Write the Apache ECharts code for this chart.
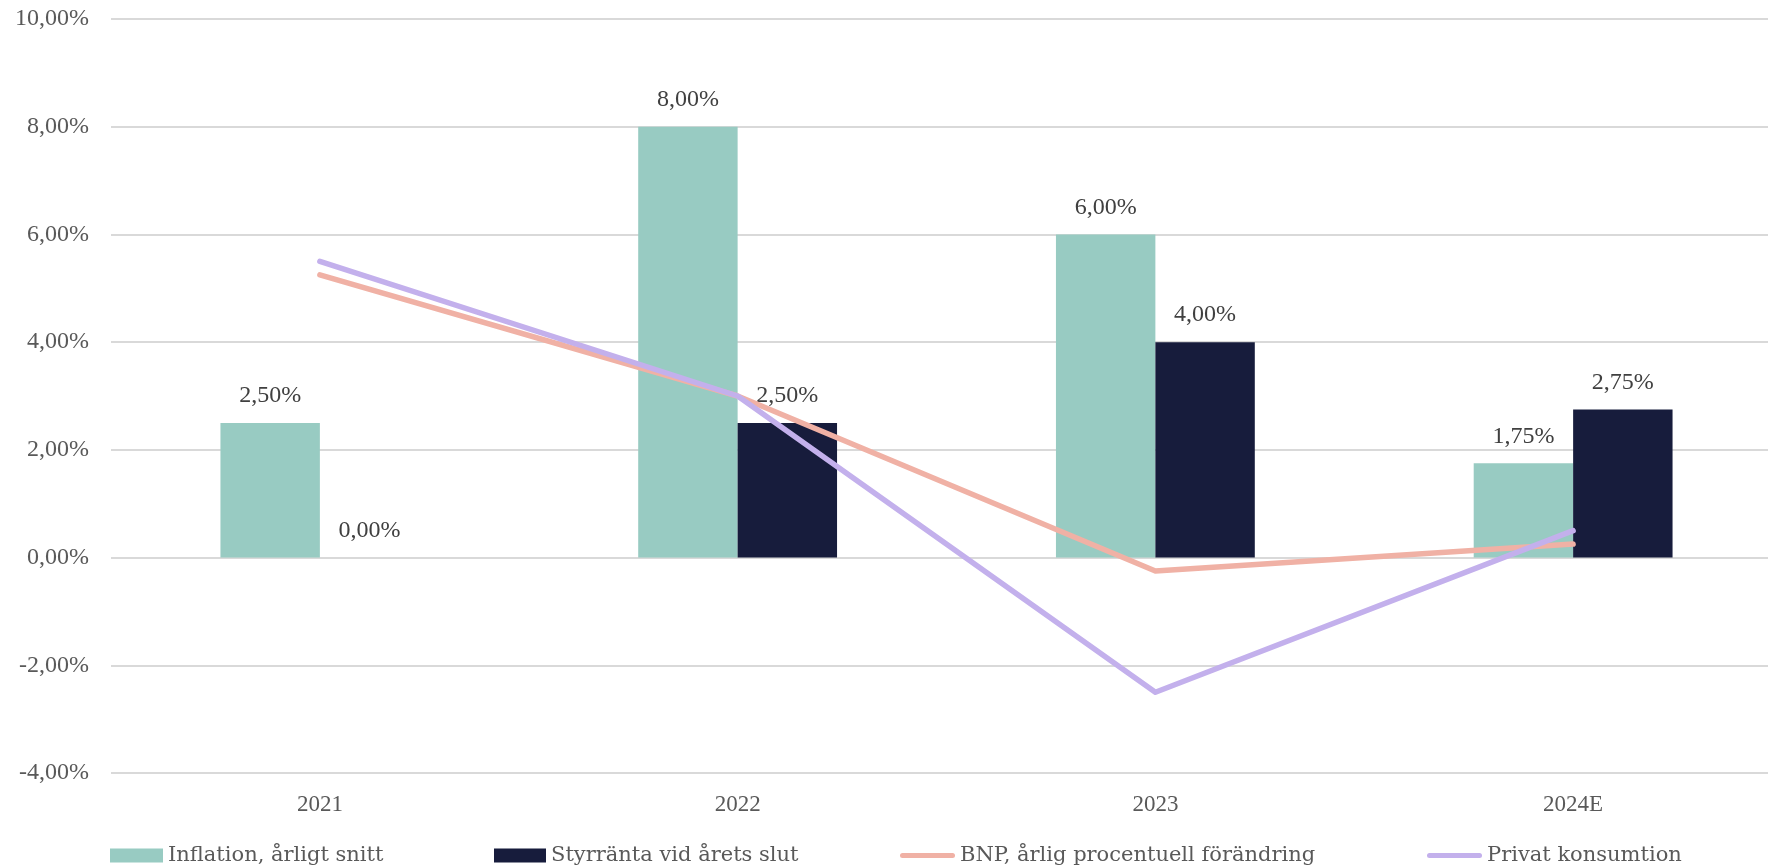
<!DOCTYPE html>
<html>
<head>
<meta charset="utf-8">
<script src="https://cdn.jsdelivr.net/npm/echarts@6/dist/echarts.min.js"></script>
<style>html,body{margin:0;padding:0;background:#fff;}#c{width:1768px;height:867px;}</style>
</head>
<body>
<div id="c"></div>
<script>
const categories = ['2021', '2022', '2023', '2024E'];
const inflation = [2.5, 8.0, 6.0, 1.75];
const styrranta = [0.0, 2.5, 4.0, 2.75];
const bnp = [5.25, 3.0, -0.25, 0.25];
const privat = [5.5, 3.0, -2.5, 0.5];
const seriesNames = ['Inflation, årligt snitt', 'Styrränta vid årets slut', 'BNP, årlig procentuell förändring', 'Privat konsumtion'];
const colors = ['#98CBC2', '#171C3C', '#F0B1A5', '#C3B0EC'];

const fmt = v => v.toFixed(2).replace('.', ',') + '%';
const chart = echarts.init(document.getElementById('c'));
const labelStyle = {
  show: true, position: 'top', distance: 15,
  color: '#404040', fontFamily: 'Liberation Serif', fontSize: 24,
  formatter: p => fmt(p.value)
};
const capsule = 'path://M2.5,0 L52.5,0 A2.5,2.5 0 0 1 52.5,5 L2.5,5 A2.5,2.5 0 0 1 2.5,0 Z';
const legendBase = {
  orient: 'horizontal', top: 845, padding: 0,
  textStyle: { color: '#595959', fontFamily: 'DejaVu Serif', fontSize: 21 },
  itemStyle: { borderWidth: 0 },
  selectedMode: false
};
chart.setOption({
  animation: false,
  color: colors,
  grid: { left: 111, top: 19, width: 1671, bottom: 94, outerBoundsMode: 'none', containLabel: false },
  legend: [
    Object.assign({}, legendBase, { left: 110, data: [seriesNames[0]], icon: 'rect', itemWidth: 53, itemHeight: 14 }),
    Object.assign({}, legendBase, { left: 494, data: [seriesNames[1]], icon: 'rect', itemWidth: 52, itemHeight: 14 }),
    Object.assign({}, legendBase, { left: 900, data: [seriesNames[2]], icon: capsule, itemWidth: 55, itemHeight: 5 }),
    Object.assign({}, legendBase, { left: 1427, data: [seriesNames[3]], icon: capsule, itemWidth: 55, itemHeight: 5 })
  ],
  xAxis: {
    type: 'category', data: categories,
    axisLine: { show: false }, axisTick: { show: false },
    axisLabel: { color: '#595959', fontFamily: 'Liberation Serif', fontSize: 23, margin: 20 }
  },
  yAxis: {
    type: 'value', min: -4, max: 10, interval: 2,
    axisLine: { show: false }, axisTick: { show: false },
    axisLabel: { color: '#595959', fontFamily: 'Liberation Serif', fontSize: 24, margin: 22, formatter: v => fmt(v) },
    splitLine: { lineStyle: { color: '#D9D9D9', width: 2 } }
  },
  series: [
    { name: seriesNames[0], type: 'bar', data: inflation, barGap: '0%', barCategoryGap: '52.4%', label: labelStyle, itemStyle: { color: colors[0] } },
    { name: seriesNames[1], type: 'bar', data: styrranta, label: labelStyle, itemStyle: { color: colors[1] } },
    { name: seriesNames[2], type: 'line', data: bnp, symbol: 'none', lineStyle: { color: colors[2], width: 5.5, cap: 'round', join: 'round' }, itemStyle: { color: colors[2] }, z: 3 },
    { name: seriesNames[3], type: 'line', data: privat, symbol: 'none', lineStyle: { color: colors[3], width: 5.5, cap: 'round', join: 'round' }, itemStyle: { color: colors[3] }, z: 4 }
  ]
});
</script>
</body>
</html>
